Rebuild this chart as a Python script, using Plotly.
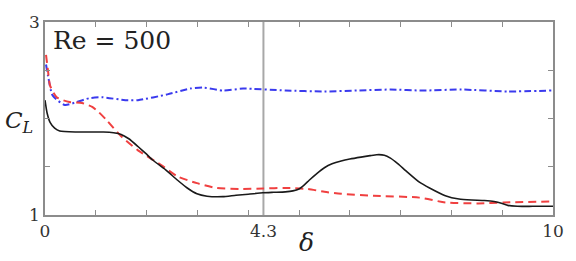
import plotly.graph_objects as go

# Black solid
x_black = [0.0, 0.04, 0.1, 0.19, 0.29, 0.6, 0.87, 1.15, 1.35, 1.5, 1.65, 1.83, 2.0, 2.12, 2.37, 2.61, 2.80, 2.99, 3.19, 3.5, 3.76, 4.0, 4.29, 4.5, 4.73, 4.88, 5.0, 5.1, 5.2, 5.35, 5.50, 5.65, 5.83, 6.0, 6.22, 6.4, 6.53, 6.68, 6.80, 6.95, 7.10, 7.37, 7.57, 7.88, 8.15, 8.4, 8.65, 8.84, 9.0, 9.11, 9.3, 9.6, 10.0]
y_black = [2.19, 2.06, 1.96, 1.90, 1.87, 1.86, 1.86, 1.86, 1.852, 1.835, 1.79, 1.71, 1.63, 1.57, 1.47, 1.36, 1.28, 1.22, 1.195, 1.19, 1.205, 1.215, 1.23, 1.235, 1.24, 1.25, 1.27, 1.31, 1.36, 1.43, 1.49, 1.53, 1.56, 1.58, 1.60, 1.615, 1.625, 1.62, 1.59, 1.53, 1.46, 1.34, 1.28, 1.20, 1.165, 1.155, 1.15, 1.14, 1.12, 1.10, 1.09, 1.09, 1.09]

# Red dashed
x_red = [0.02, 0.06, 0.1, 0.23, 0.48, 0.73, 0.93, 1.05, 1.2, 1.51, 1.83, 2.28, 2.61, 2.99, 3.38, 3.82, 4.3, 4.73, 5.17, 5.5, 5.83, 6.47, 7.37, 7.88, 8.53, 9.03, 10.0]
y_red = [2.66, 2.49, 2.34, 2.22, 2.17, 2.16, 2.12, 2.07, 1.99, 1.81, 1.67, 1.52, 1.40, 1.33, 1.28, 1.27, 1.275, 1.28, 1.27, 1.24, 1.22, 1.20, 1.18, 1.13, 1.12, 1.13, 1.14]

# Blue dash-dot
x_blue = [0.02, 0.06, 0.15, 0.39, 0.62, 0.87, 1.12, 1.58, 1.83, 2.41, 2.86, 3.13, 3.51, 3.90, 4.73, 5.5, 6.14, 6.80, 7.43, 8.2, 9.11, 10.0]
y_blue = [2.56, 2.44, 2.24, 2.14, 2.17, 2.21, 2.22, 2.19, 2.19, 2.25, 2.31, 2.32, 2.29, 2.31, 2.29, 2.28, 2.29, 2.30, 2.29, 2.30, 2.28, 2.29]

x_tickvals = [0, 4.3, 10]
x_ticktext = ["0", "4.3", "10"]
y_tickvals = [1, 3]
y_ticktext = ["1", "3"]
delta_mark = 4.3

SERIF = "DejaVu Serif"

fig = go.Figure()
fig.add_trace(go.Scatter(x=[delta_mark, delta_mark], y=[1, 3], mode="lines",
                         line=dict(color="#a8a8a8", width=2), hoverinfo="skip"))
fig.add_trace(go.Scatter(x=x_blue, y=y_blue, mode="lines",
                         line=dict(color="#3a3aee", width=2, dash="7px,3px,2px,3px", shape="spline", smoothing=0.6)))
fig.add_trace(go.Scatter(x=x_red, y=y_red, mode="lines",
                         line=dict(color="#f04040", width=2, dash="8px,5px", shape="spline", smoothing=0.6)))
fig.add_trace(go.Scatter(x=x_black, y=y_black, mode="lines",
                         line=dict(color="#1a1a1a", width=1.6, shape="spline", smoothing=0.5)))

axis_common = dict(showline=True, linecolor="#8c8c8c", linewidth=1.5, mirror="ticks",
                   showgrid=False, zeroline=False, ticks="inside", ticklen=0,
                   tickfont=dict(family=SERIF, size=17, color="#333333"))

fig.update_xaxes(range=[0, 10], tickvals=x_tickvals, ticktext=x_ticktext,
                 minor=dict(ticks="inside", dtick=1, tick0=0, ticklen=5, tickcolor="#8c8c8c", tickwidth=1),
                 **axis_common)
fig.update_yaxes(range=[1, 3], tickvals=y_tickvals, ticktext=y_ticktext,
                 minor=dict(ticks="inside", dtick=0.5, tick0=1, ticklen=5, tickcolor="#8c8c8c", tickwidth=1),
                 **axis_common)

fig.add_annotation(x=0.012, y=0.905, xref="paper", yref="paper", xanchor="left", yanchor="middle",
                   text="Re = 500", showarrow=False, font=dict(family=SERIF, size=25, color="#222222"))
fig.add_annotation(x=-0.052, y=0.48, xref="paper", yref="paper", xanchor="center", yanchor="middle",
                   text="<i>C</i><sub><i>L</i></sub>", showarrow=False, font=dict(family=SERIF, size=23, color="#222222"))
fig.add_annotation(x=0.515, y=-0.14, xref="paper", yref="paper", xanchor="center", yanchor="middle",
                   text="<i>δ</i>", showarrow=False, font=dict(family=SERIF, size=25, color="#222222"))

fig.update_layout(width=576, height=261, margin=dict(l=45, r=13, t=13, b=46),
                  plot_bgcolor="white", paper_bgcolor="white", showlegend=False)

fig.write_html("out.html")
